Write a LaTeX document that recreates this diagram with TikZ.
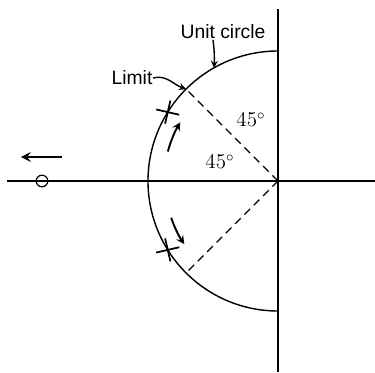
\documentclass[tikz,border=0pt]{standalone}
\usepackage{fontspec}
\setsansfont{Liberation Sans}
\usepackage{tikz}
\usetikzlibrary{arrows, shapes.misc, calc}

\begin{document}
\begin{tikzpicture}[
    x=0.02cm, y=0.02cm,
    line width=0.8pt,
    lbl/.style={font=\sffamily\fontsize{11}{13}\selectfont, inner sep=0pt},
    ang/.style={font=\fontsize{12}{14}\selectfont, inner sep=0pt},
    pole/.style={draw, cross out, minimum size=8.5pt, inner sep=0pt, line width=1pt},
    zero/.style={draw, circle, minimum size=6.6pt, inner sep=0pt, line width=0.7pt},
    radial/.style={dash pattern=on 4.5pt off 3pt},
    arrow/.style={line width=1.1pt,->,>=stealth}
]
\useasboundingbox (-278,-191) rectangle (97,181);

% Axes
\coordinate (O) at (0,0);
\draw (-271,0) -- (97,0);
\draw (0,172) -- (0,-191);

% Unit circle
\draw (0,130) arc[start angle=90, end angle=270, radius=130];
\draw[radial] (O) -- (135:130);
\draw[radial] (O) -- (225:130);

% Nodes
\node (x1) [pole, rotate=32] at (148:130) {};
\node (x2) [pole, rotate=-32] at (212:130) {};
\node (z) [zero] at (-236,0) {};
\node (unit) [lbl] at (-55,149) {Unit circle};
\node (limit) [lbl] at (-146,103) {Limit};
\node (a45) [ang] at (-27,61) {45$^\circ$};
\node (b45) [ang] at (-58,19) {45$^\circ$};
\coordinate (uc) at (119.5:130);
\coordinate (lim) at (135:130);
\coordinate (l1) at (-216,24);
\coordinate (l2) at (-257,24);

% Links
\draw[arrow, line width=0.8pt] (unit.south -| -65,0) to[bend left=5] (uc);
\draw[arrow, line width=0.8pt] (limit.east) to[out=15, in=160] (lim);
\draw[arrow] (165:114) arc[start angle=165, end angle=149, radius=114];
\draw[arrow] (199:113) arc[start angle=199, end angle=214, radius=113];
\draw[arrow, line width=1.4pt] (l1) -- (l2);

\end{tikzpicture}
\end{document}
